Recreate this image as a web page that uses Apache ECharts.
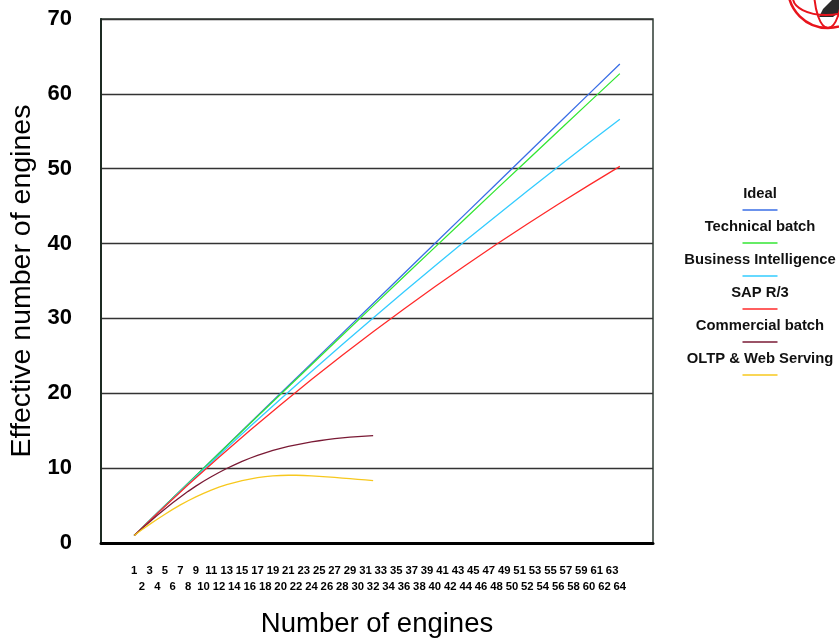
<!DOCTYPE html>
<html>
<head>
<meta charset="utf-8">
<script src="https://cdn.jsdelivr.net/npm/echarts@6/dist/echarts.min.js"></script>
<style>
  html, body { margin: 0; padding: 0; background: #fff; }
  #chart { width: 839px; height: 639px; }
</style>
</head>
<body>
<div id="chart"></div>
<script>
// Engine counts sampled for the near-linear curves
const bigX = [1, 4, 8, 12, 16, 20, 24, 28, 32, 36, 40, 44, 48, 52, 56, 60, 64];
const ideal = [1, 4, 8, 12, 16, 20, 24, 28, 32, 36, 40, 44, 48, 52, 56, 60, 64];
const technicalBatch = [1, 4.0, 7.98, 11.96, 15.92, 19.88, 23.82, 27.75, 31.68, 35.59, 39.49, 43.39, 47.27, 51.14, 55.0, 58.86, 62.7];
const businessIntelligence = [1, 3.98, 7.89, 11.73, 15.52, 19.24, 22.91, 26.51, 30.07, 33.56, 37.0, 40.4, 43.73, 47.02, 50.26, 53.46, 56.6];
const sapR3 = [1, 3.95, 7.77, 11.46, 15.03, 18.48, 21.83, 25.08, 28.22, 31.27, 34.23, 37.11, 39.9, 42.61, 45.25, 47.81, 50.31];

// Engine counts 1..32 for the workloads that flatten out
const smallX = [1, 2, 3, 4, 5, 6, 7, 8, 9, 10, 11, 12, 13, 14, 15, 16, 17, 18, 19, 20, 21, 22, 23, 24, 25, 26, 27, 28, 29, 30, 31, 32];
const commercialBatch = [1, 1.92, 2.82, 3.7, 4.55, 5.37, 6.15, 6.9, 7.6, 8.25, 8.85, 9.42, 9.95, 10.44, 10.9, 11.32, 11.7, 12.05, 12.37, 12.65, 12.9, 13.12, 13.32, 13.5, 13.66, 13.8, 13.93, 14.04, 14.14, 14.22, 14.29, 14.35];
const oltpWeb = [1, 1.76, 2.49, 3.18, 3.85, 4.49, 5.09, 5.65, 6.17, 6.64, 7.07, 7.45, 7.79, 8.08, 8.33, 8.54, 8.72, 8.86, 8.96, 9.02, 9.05, 9.05, 9.02, 8.97, 8.91, 8.84, 8.76, 8.68, 8.6, 8.51, 8.42, 8.33];

// Tick labels: odd engine counts on the upper row, even ones on the lower row
const xTickLabelsOdd = [1, 3, 5, 7, 9, 11, 13, 15, 17, 19, 21, 23, 25, 27, 29, 31, 33, 35, 37, 39, 41, 43, 45, 47, 49, 51, 53, 55, 57, 59, 61, 63];
const xTickLabelsEven = [2, 4, 6, 8, 10, 12, 14, 16, 18, 20, 22, 24, 26, 28, 30, 32, 34, 36, 38, 40, 42, 44, 46, 48, 50, 52, 54, 56, 58, 60, 62, 64];
const yTickLabels = [0, 10, 20, 30, 40, 50, 60, 70];

const seriesNames = ['Ideal', 'Technical batch', 'Business Intelligence', 'SAP R/3', 'Commercial batch', 'OLTP & Web Serving'];
const seriesColors = ['#3a6ee6', '#33e633', '#33ccff', '#ff2a2a', '#7a1a35', '#f7c81e'];
const seriesX = [bigX, bigX, bigX, bigX, smallX, smallX];
const seriesY = [ideal, technicalBatch, businessIntelligence, sapR3, commercialBatch, oltpWeb];

const FONT = "'Liberation Sans', Arial, sans-serif";
const X_MIN = -3.3, X_MAX = 68.3;

const chart = echarts.init(document.getElementById('chart'), null, { renderer: 'canvas' });

const legendRich = {
  n: { fontFamily: FONT, fontWeight: 'bold', fontSize: 14.8, color: '#111', align: 'center', width: 160, lineHeight: 22 }
};
seriesColors.forEach((c, i) => {
  legendRich['l' + i] = { width: 35, height: 1.5, backgroundColor: c, align: 'center', lineHeight: 11 };
});

function tickLabelStyle(values, margin) {
  return {
    customValues: values,
    showMinLabel: true,
    showMaxLabel: true,
    hideOverlap: false,
    fontFamily: FONT,
    fontWeight: 'bold',
    fontSize: 11.3,
    color: '#000',
    margin: margin
  };
}

const option = {
  animation: false,
  backgroundColor: '#ffffff',
  grid: {
    left: 101, right: 186, top: 19, bottom: 96,
    outerBoundsMode: 'none',
    containLabel: false,
    show: true, borderColor: '#2e3b33', borderWidth: 1.5, backgroundColor: 'transparent'
  },
  legend: {
    orient: 'vertical',
    left: 670,
    top: 181,
    itemGap: 3,
    itemWidth: 0,
    itemHeight: 0,
    icon: 'rect',
    selectedMode: false,
    data: seriesNames,
    formatter: function (name) {
      const i = seriesNames.indexOf(name);
      return '{n|' + name + '}\n{l' + i + '|}';
    },
    textStyle: { width: 160, rich: legendRich }
  },
  xAxis: [
    {
      type: 'value',
      min: X_MIN,
      max: X_MAX,
      name: 'Number of engines',
      nameLocation: 'middle',
      nameGap: 67,
      nameTextStyle: { fontFamily: FONT, fontSize: 27.5, color: '#000' },
      axisLine: { show: true, onZero: false, lineStyle: { color: '#000', width: 3 } },
      axisTick: { show: false },
      splitLine: { show: false },
      axisLabel: tickLabelStyle(xTickLabelsOdd, 22.5)
    },
    {
      type: 'value',
      position: 'bottom',
      min: X_MIN,
      max: X_MAX,
      axisLine: { show: false, onZero: false },
      axisTick: { show: false },
      splitLine: { show: false },
      axisLabel: tickLabelStyle(xTickLabelsEven, 38.5)
    }
  ],
  yAxis: {
    type: 'value',
    min: yTickLabels[0],
    max: yTickLabels[yTickLabels.length - 1],
    interval: 10,
    name: 'Effective number of engines',
    nameLocation: 'middle',
    nameGap: 63,
    nameTextStyle: { fontFamily: FONT, fontSize: 28.5, color: '#000' },
    axisLine: { show: true, onZero: false, lineStyle: { color: '#1c2a22', width: 2 } },
    axisTick: { show: false },
    splitLine: { show: true, lineStyle: { color: '#333', width: 1.4 } },
    axisLabel: {
      fontFamily: FONT, fontWeight: 'bold', fontSize: 22, color: '#000', margin: 29
    }
  },
  series: seriesNames.map((name, i) => ({
    name: name,
    type: 'line',
    xAxisIndex: 0,
    showSymbol: false,
    symbol: 'none',
    smooth: false,
    color: seriesColors[i],
    lineStyle: { color: seriesColors[i], width: 1.3 },
    data: seriesX[i].map((x, j) => [x, seriesY[i][j]])
  })),
  graphic: [
    {
      type: 'group',
      silent: true,
      children: [
        { type: 'polygon', shape: { points: [[819, 17], [823, 9], [829, 3], [832, 0], [839, 0], [839, 12], [833, 17]] }, style: { fill: '#2a2a2a' } },
        { type: 'circle', shape: { cx: 828, cy: -12, r: 40 }, style: { fill: 'none', stroke: '#e8141c', lineWidth: 2.5 } },
        { type: 'ellipse', shape: { cx: 828, cy: -12, rx: 14, ry: 40 }, style: { fill: 'none', stroke: '#e8141c', lineWidth: 2 } },
        { type: 'ellipse', shape: { cx: 826, cy: -2, rx: 33, ry: 17 }, style: { fill: 'none', stroke: '#e8141c', lineWidth: 2 } }
      ]
    }
  ]
};

chart.setOption(option);
</script>
</body>
</html>
